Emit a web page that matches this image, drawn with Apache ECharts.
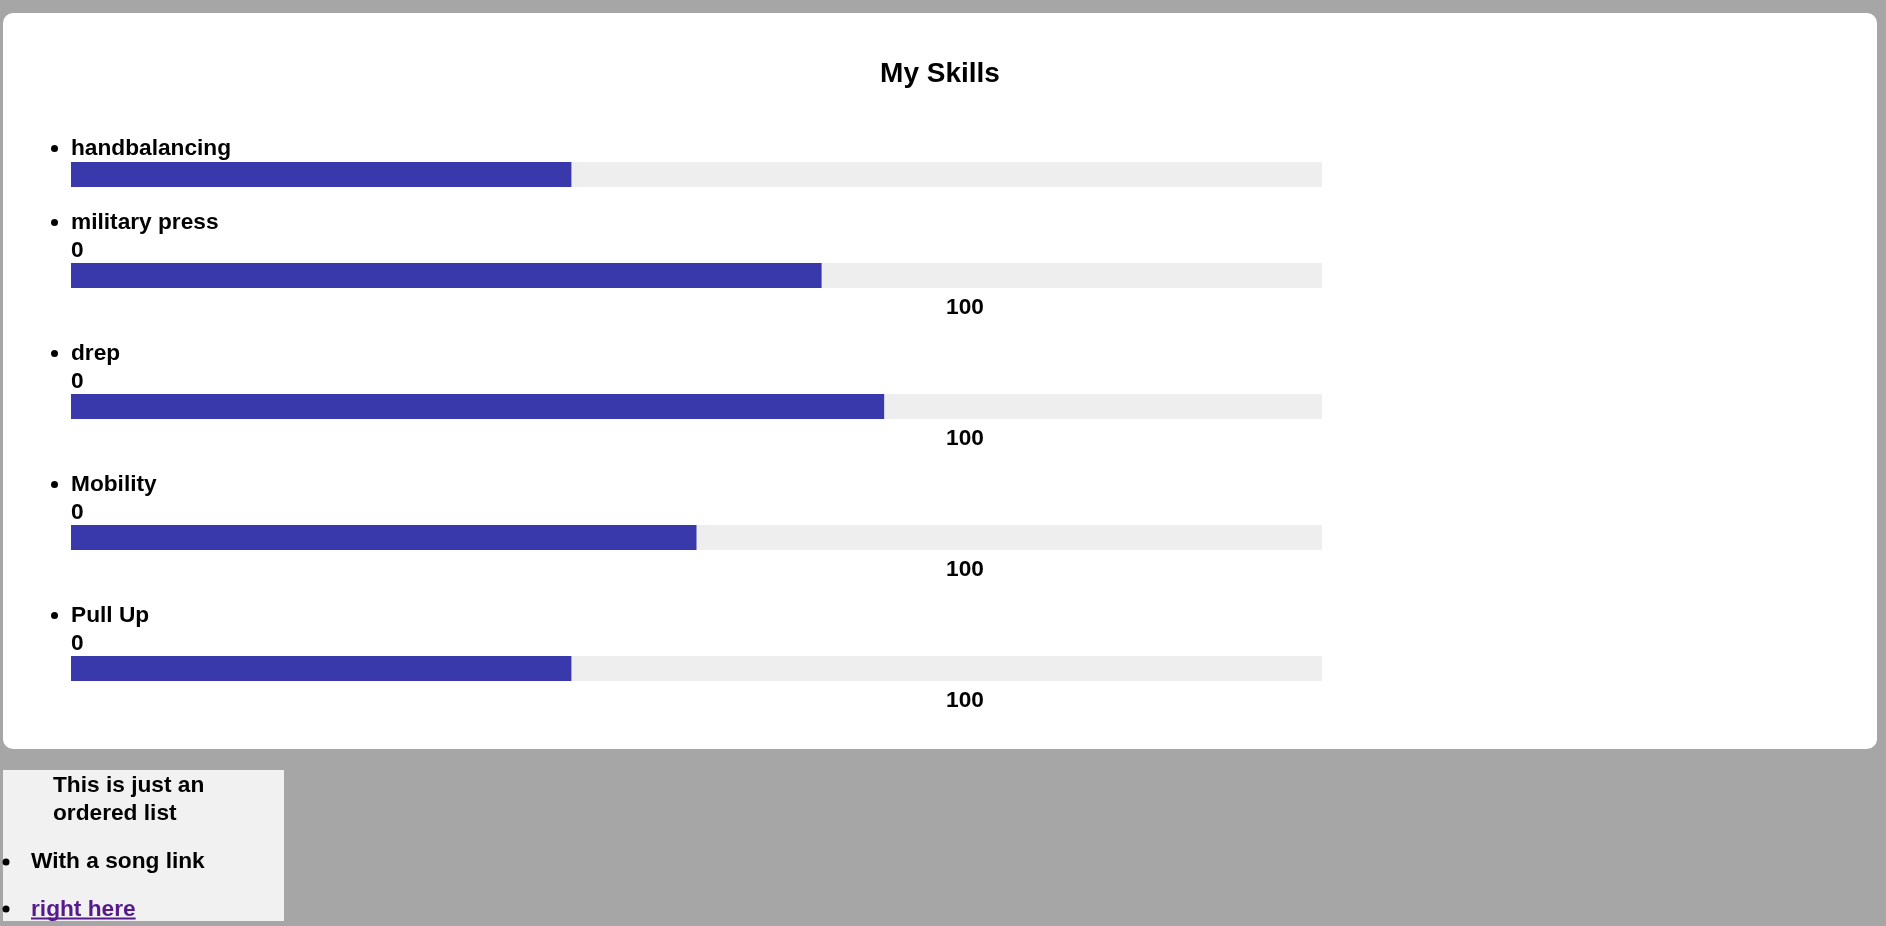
<!DOCTYPE html>
<html><head><meta charset="utf-8">
<script src="https://cdn.jsdelivr.net/npm/echarts@6/dist/echarts.min.js"></script>
<style>html,body{margin:0;padding:0;background:#a6a6a6;overflow:hidden}#c{width:1886px;height:926px}</style>
</head><body><div id="c"></div>
<script>
// ---- data ----
const titleText = 'My Skills';
const skills = ['handbalancing', 'military press', 'drep', 'Mobility', 'Pull Up'];
const levels = [40, 60, 65, 50, 40];
const showRange = [false, true, true, true, true];
const rangeLabels = ['0', '100'];
const noteLines = ['This is just an', 'ordered list'];
const noteItems = ['With a song link', 'right here'];

// ---- layout ----
const FONT = '"Liberation Sans", Arial, sans-serif';
const LBL = 'bold 22.7px ' + FONT;
const barLeft = 71, barWidth = 1251, barH = 25;
const barTops = [162, 263, 394, 525, 656];
const BLUE = '#3a39ac', TRACK = '#eeeeee';

const grids = [], xAxes = [], yAxes = [], series = [], graphics = [];

graphics.push({type: 'rect', z: -10, shape: {x: 3, y: 13, width: 1874, height: 736, r: 10}, style: {fill: '#ffffff'}});
graphics.push({type: 'rect', z: -10, shape: {x: 3, y: 770, width: 281, height: 151}, style: {fill: '#f1f1f1'}});
graphics.push({type: 'text', x: 940, y: 74.5, style: {text: titleText, font: 'bold 28px ' + FONT, fill: '#000', align: 'center', verticalAlign: 'middle'}});

skills.forEach((name, i) => {
  const T = barTops[i];
  grids.push({left: barLeft, width: barWidth, top: T, height: barH});
  xAxes.push({type: 'value', gridIndex: i, min: 0, max: 100, show: false});
  yAxes.push({type: 'category', gridIndex: i, data: [name], show: false});
  series.push({
    type: 'bar', xAxisIndex: i, yAxisIndex: i, data: [levels[i]],
    barWidth: '100%', showBackground: true,
    backgroundStyle: {color: TRACK}, itemStyle: {color: BLUE}, silent: true
  });
  const labelY = showRange[i] ? T - 40 : T - 13;
  graphics.push({type: 'circle', shape: {cx: 54.5, cy: labelY - 0.5, r: 3.5}, style: {fill: '#000'}});
  graphics.push({type: 'text', x: 71, y: labelY, style: {text: name, font: LBL, fill: '#000', align: 'left', verticalAlign: 'middle'}});
  if (showRange[i]) {
    graphics.push({type: 'text', x: 71, y: T - 12, style: {text: rangeLabels[0], font: LBL, fill: '#000', align: 'left', verticalAlign: 'middle'}});
    graphics.push({type: 'text', x: 965, y: T + 44.5, style: {text: rangeLabels[1], font: LBL, fill: '#000', align: 'center', verticalAlign: 'middle'}});
  }
});

// bottom note box
const NOTE = 'bold 22.7px ' + FONT;
const measure = (txt, font) => { const c = document.createElement('canvas').getContext('2d'); c.font = font; return c.measureText(txt).width; };
graphics.push({type: 'text', x: 53, y: 786, style: {text: noteLines[0], font: NOTE, fill: '#000', align: 'left', verticalAlign: 'middle'}});
graphics.push({type: 'text', x: 53, y: 814, style: {text: noteLines[1], font: NOTE, fill: '#000', align: 'left', verticalAlign: 'middle'}});
graphics.push({type: 'circle', shape: {cx: 6, cy: 862, r: 3.5}, style: {fill: '#000'}});
graphics.push({type: 'text', x: 31, y: 862, style: {text: noteItems[0], font: NOTE, fill: '#000', align: 'left', verticalAlign: 'middle'}});
graphics.push({type: 'circle', shape: {cx: 6, cy: 909, r: 3.5}, style: {fill: '#000'}});
graphics.push({type: 'text', x: 31, y: 909.5, style: {text: noteItems[1], font: NOTE, fill: '#551a8b', align: 'left', verticalAlign: 'middle'}});
const ulw = measure(noteItems[1], NOTE);
graphics.push({type: 'line', shape: {x1: 31, y1: 918.5, x2: 31 + ulw, y2: 918.5}, style: {stroke: '#551a8b', lineWidth: 2}});

const chart = echarts.init(document.getElementById('c'), null, {renderer: 'canvas'});
chart.setOption({
  backgroundColor: '#a6a6a6',
  animation: false,
  grid: grids, xAxis: xAxes, yAxis: yAxes, series: series,
  graphic: {elements: graphics}
});
</script>
</body></html>
